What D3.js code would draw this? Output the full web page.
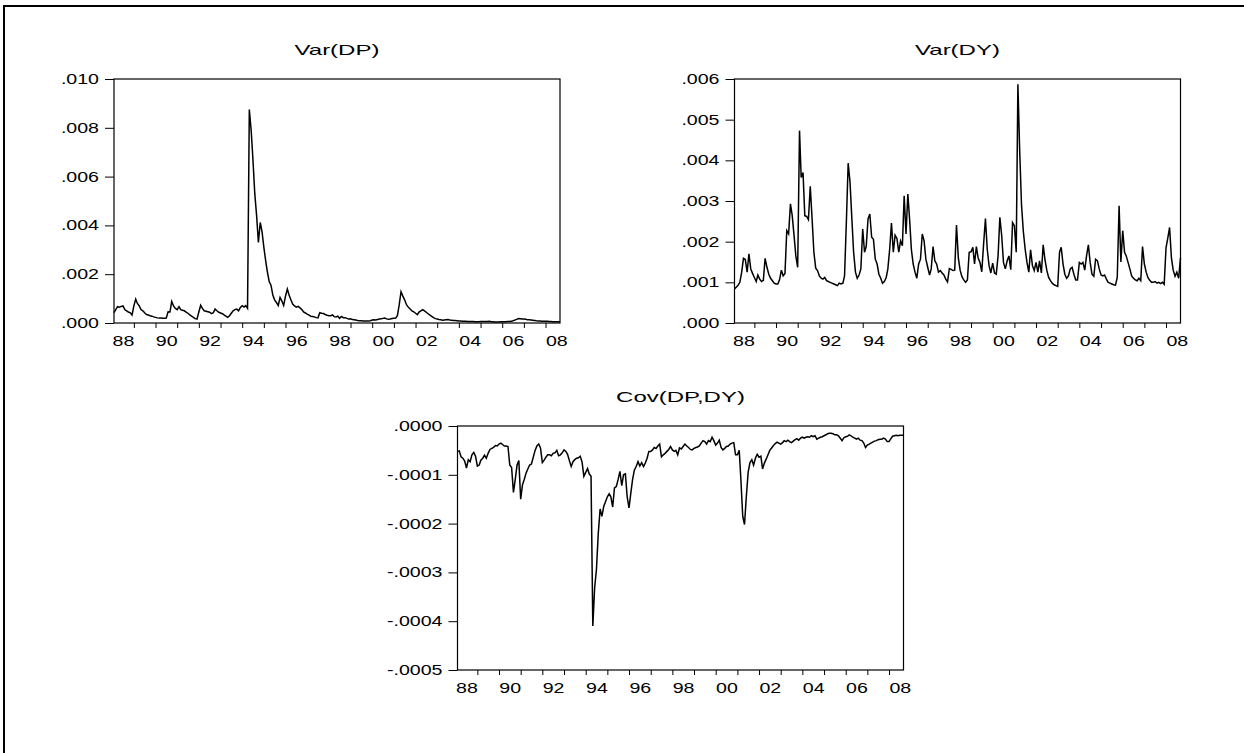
<!DOCTYPE html>
<html>
<head>
<meta charset="utf-8">
<script src="https://cdn.jsdelivr.net/npm/d3@7"></script>
<style>
  html, body { margin: 0; padding: 0; background: #fff; }
  svg { display: block; }
  text { font-family: "Liberation Sans", Arial, sans-serif; fill: #000; }
</style>
</head>
<body>
<div id="chart"></div>
<script>
// monthly sample, 1988M02 - 2008M09
var startMonth = new Date(1988, 1, 1),
    endMonth = new Date(2008, 8, 1);
var months = d3.timeMonth.range(startMonth, d3.timeMonth.offset(endMonth, 1));

// Var(DP), in units of 1e-3 (one row per calendar year)
var varDP = [
  0.43, 0.55, 0.67, 0.65, 0.68, 0.70, 0.55, 0.50, 0.45, 0.42, 0.33,
  0.70, 0.98, 0.80, 0.70, 0.55, 0.50, 0.42, 0.35, 0.33, 0.30, 0.28, 0.25,
  0.23, 0.21, 0.20, 0.20, 0.19, 0.19, 0.20, 0.46, 0.45, 0.88, 0.70, 0.60,
  0.55, 0.67, 0.55, 0.52, 0.50, 0.45, 0.40, 0.33, 0.28, 0.23, 0.18, 0.16,
  0.45, 0.73, 0.60, 0.50, 0.48, 0.46, 0.44, 0.38, 0.42, 0.57, 0.50, 0.44,
  0.41, 0.38, 0.33, 0.28, 0.23, 0.30, 0.40, 0.50, 0.55, 0.57, 0.50, 0.64,
  0.71, 0.65, 0.71, 0.60, 8.75, 7.90, 6.70, 5.30, 4.40, 3.30, 4.12, 3.75,
  3.10, 2.55, 2.10, 1.70, 1.55, 1.15, 0.95, 0.84, 0.72, 1.05, 0.90, 0.72,
  1.10, 1.39, 1.15, 0.95, 0.78, 0.70, 0.65, 0.68, 0.62, 0.55, 0.45, 0.41,
  0.36, 0.32, 0.28, 0.27, 0.25, 0.22, 0.21, 0.42, 0.40, 0.39, 0.35, 0.32,
  0.30, 0.30, 0.33, 0.26, 0.25, 0.28, 0.19, 0.27, 0.22, 0.22, 0.19, 0.16,
  0.17, 0.14, 0.135, 0.12, 0.10, 0.094, 0.09, 0.085, 0.08, 0.08, 0.08, 0.094,
  0.12, 0.13, 0.12, 0.14, 0.16, 0.17, 0.19, 0.20, 0.17, 0.15, 0.16, 0.18,
  0.19, 0.20, 0.30, 0.75, 1.28, 1.10, 0.95, 0.75, 0.65, 0.57, 0.50, 0.46,
  0.40, 0.34, 0.45, 0.50, 0.55, 0.50, 0.44, 0.38, 0.32, 0.27, 0.22, 0.18,
  0.16, 0.14, 0.13, 0.11, 0.12, 0.13, 0.14, 0.12, 0.11, 0.10, 0.10, 0.09,
  0.08, 0.08, 0.075, 0.07, 0.067, 0.065, 0.065, 0.06, 0.06, 0.055, 0.054, 0.055,
  0.06, 0.06, 0.06, 0.06, 0.065, 0.067, 0.055, 0.05, 0.045, 0.04, 0.045, 0.05,
  0.05, 0.055, 0.054, 0.06, 0.065, 0.067, 0.09, 0.12, 0.15, 0.18, 0.17, 0.16,
  0.16, 0.15, 0.135, 0.13, 0.12, 0.11, 0.10, 0.09, 0.085, 0.08, 0.075, 0.07,
  0.07, 0.067, 0.06, 0.06, 0.055, 0.05, 0.05, 0.05, 0.05
];

// Var(DY), in units of 1e-3
var varDY = [
  0.84, 0.88, 0.93, 1.00, 1.25, 1.59, 1.56, 1.25, 1.70, 1.33, 1.22,
  1.12, 1.02, 1.18, 1.08, 1.02, 1.05, 1.59, 1.37, 1.20, 1.10, 1.04, 0.98,
  0.96, 0.96, 1.06, 1.30, 1.16, 1.22, 2.27, 2.19, 2.93, 2.64, 2.15, 1.65,
  1.37, 4.73, 3.58, 3.70, 2.64, 2.62, 2.54, 3.36, 2.56, 1.74, 1.35, 1.29,
  1.16, 1.10, 1.08, 1.12, 1.04, 1.02, 1.00, 0.98, 0.96, 0.94, 0.92, 0.98,
  0.96, 0.98, 1.16, 2.50, 3.93, 3.47, 2.60, 1.74, 1.25, 1.10, 1.18, 1.33,
  2.31, 1.74, 1.88, 2.56, 2.68, 2.11, 2.06, 1.57, 1.45, 1.20, 1.10, 0.98,
  1.02, 1.12, 1.33, 1.82, 2.46, 1.74, 2.16, 2.08, 1.74, 2.02, 1.90, 3.13,
  2.19, 3.17, 2.56, 1.80, 1.45, 1.25, 1.10, 1.45, 1.57, 2.19, 2.02, 1.57,
  1.37, 1.18, 1.33, 1.88, 1.53, 1.45, 1.25, 1.29, 1.23, 1.18, 1.08, 1.01,
  1.34, 1.32, 1.29, 1.30, 2.41, 1.60, 1.30, 1.14, 1.06, 1.00, 1.06, 1.74,
  1.75, 1.86, 1.45, 1.88, 1.60, 1.49, 1.26, 1.94, 2.57, 1.82, 1.41, 1.23,
  1.47, 1.23, 1.20, 1.65, 2.60, 2.15, 1.49, 1.33, 1.53, 1.65, 1.31, 2.47,
  2.39, 1.74, 5.87, 4.20, 2.90, 2.25, 1.82, 1.49, 1.25, 1.80, 1.41, 1.29,
  1.49, 1.25, 1.53, 1.23, 1.92, 1.55, 1.30, 1.12, 1.04, 0.98, 0.94, 0.92,
  0.90, 1.74, 1.86, 1.45, 1.20, 1.10, 1.16, 1.33, 1.37, 1.20, 1.06, 1.06,
  1.49, 1.45, 1.49, 1.30, 1.65, 1.92, 1.49, 1.20, 1.15, 1.57, 1.53, 1.33,
  1.18, 1.16, 1.18, 1.08, 1.00, 0.98, 0.96, 0.94, 0.93, 1.12, 2.88, 1.50,
  2.27, 1.74, 1.65, 1.49, 1.33, 1.16, 1.10, 1.06, 1.04, 1.10, 1.04, 1.88,
  1.45, 1.25, 1.12, 1.05, 1.00, 1.00, 1.02, 0.98, 1.00, 0.97, 1.00, 0.95,
  1.85, 2.10, 2.35, 1.60, 1.30, 1.15, 1.25, 1.10, 1.60
];

// Cov(DP,DY), in units of 1e-4
var covDPDY = [
  -0.52, -0.51, -0.63, -0.66, -0.72, -0.86, -0.69, -0.73, -0.59, -0.54, -0.62,
  -0.82, -0.80, -0.70, -0.66, -0.60, -0.66, -0.56, -0.48, -0.46, -0.44, -0.40, -0.41,
  -0.37, -0.35, -0.38, -0.41, -0.41, -0.42, -0.80, -0.85, -1.36, -1.10, -0.80, -0.71,
  -1.50, -1.20, -1.10, -0.97, -0.88, -0.80, -0.78, -0.64, -0.50, -0.41, -0.37, -0.45,
  -0.75, -0.70, -0.64, -0.59, -0.59, -0.61, -0.56, -0.55, -0.50, -0.61, -0.59, -0.55,
  -0.49, -0.52, -0.58, -0.71, -0.83, -0.73, -0.69, -0.66, -0.65, -0.62, -0.74, -1.03,
  -0.95, -0.87, -0.98, -1.03, -4.10, -3.31, -2.94, -2.20, -1.70, -1.85, -1.65, -1.55,
  -1.45, -1.39, -1.45, -1.66, -1.27, -1.24, -1.10, -0.93, -1.22, -1.00, -0.98, -1.45,
  -1.68, -1.37, -1.10, -0.90, -0.83, -0.73, -0.82, -0.75, -0.83, -0.76, -0.66, -0.52,
  -0.52, -0.49, -0.44, -0.46, -0.41, -0.37, -0.63, -0.59, -0.56, -0.52, -0.48, -0.42,
  -0.49, -0.52, -0.50, -0.59, -0.45, -0.47, -0.42, -0.37, -0.41, -0.44, -0.48, -0.49,
  -0.46, -0.44, -0.43, -0.41, -0.35, -0.30, -0.32, -0.37, -0.30, -0.32, -0.23, -0.30,
  -0.39, -0.35, -0.29, -0.44, -0.49, -0.46, -0.42, -0.41, -0.37, -0.35, -0.34, -0.59,
  -0.59, -0.50, -1.10, -1.85, -2.02, -1.44, -0.95, -0.75, -0.69, -0.80, -0.66, -0.58,
  -0.64, -0.62, -0.88, -0.76, -0.68, -0.59, -0.50, -0.45, -0.40, -0.36, -0.33, -0.35,
  -0.37, -0.34, -0.30, -0.32, -0.29, -0.32, -0.34, -0.31, -0.28, -0.26, -0.29, -0.25,
  -0.23, -0.25, -0.23, -0.22, -0.23, -0.20, -0.22, -0.20, -0.27, -0.25, -0.23, -0.22,
  -0.20, -0.18, -0.16, -0.15, -0.15, -0.16, -0.18, -0.18, -0.20, -0.25, -0.30, -0.24,
  -0.22, -0.21, -0.18, -0.20, -0.23, -0.25, -0.27, -0.25, -0.29, -0.30, -0.35, -0.44,
  -0.39, -0.37, -0.35, -0.33, -0.31, -0.30, -0.28, -0.27, -0.27, -0.25, -0.27, -0.32,
  -0.32, -0.26, -0.21, -0.20, -0.19, -0.20, -0.19, -0.19, -0.19
];

// axis ticks and labels
var yearTicks = d3.range(1989, 2009).map(function(y) { return new Date(y, 0, 1); });
var labelYears = d3.range(1988, 2009, 2);
var yearLabels = ['88', '90', '92', '94', '96', '98', '00', '02', '04', '06', '08'];
var dpTicks = [0, 2, 4, 6, 8, 10];
var dyTicks = [0, 1, 2, 3, 4, 5, 6];
var covTicks = [0, -1, -2, -3, -4, -5];

var width = 1244,
    height = 753,
    plotW = 446,
    plotH = 244,
    tickSx = 1.4,    // the reference text is drawn wide
    titleSx = 1.6;

var svg = d3.select('#chart')
  .append('svg')
  .attr('width', width)
  .attr('height', height);

// outer frame (only top and left edges are inside the picture)
svg.append('path')
  .attr('d', 'M4,' + (height + 10) + 'V6H' + (width + 10))
  .attr('fill', 'none')
  .attr('stroke', '#000')
  .attr('stroke-width', 2);

function noLead(s) {
  return s.replace('0.', '.');
}

function drawPanel(cfg) {
  var g = svg.append('g')
    .attr('transform', 'translate(' + cfg.left + ',' + cfg.top + ')');

  var x = d3.scaleTime()
    .domain([startMonth, endMonth])
    .range([0, plotW]);

  var y = d3.scaleLinear()
    .domain(cfg.domain)
    .range([plotH, 0]);

  // y axis, ticks pointing out
  var yAxis = d3.axisLeft(y)
    .tickValues(cfg.ticks)
    .tickSize(9)
    .tickSizeOuter(0)
    .tickPadding(6)
    .tickFormat(cfg.format);

  var yg = g.append('g').call(yAxis);
  yg.select('.domain').remove();
  yg.selectAll('line').attr('stroke', '#000');
  yg.selectAll('text')
    .attr('font-size', 14)
    .attr('font-family', '"Liberation Sans", Arial, sans-serif')
    .attr('x', -15 / tickSx)
    .attr('transform', 'scale(' + tickSx + ',1)');

  // yearly tick marks
  var xAxis = d3.axisBottom(x)
    .tickValues(yearTicks)
    .tickSize(5)
    .tickSizeOuter(0)
    .tickFormat('');

  var xg = g.append('g')
    .attr('transform', 'translate(0,' + plotH + ')')
    .call(xAxis);
  xg.select('.domain').remove();
  xg.selectAll('line').attr('stroke', '#000');

  // year labels centred on the year
  var labelAxis = d3.axisBottom(x)
    .tickValues(labelYears.map(function(yr) { return new Date(yr, 6, 1); }))
    .tickSize(0)
    .tickPadding(13)
    .tickFormat(function(d, i) { return yearLabels[i]; });

  var lg = g.append('g')
    .attr('transform', 'translate(0,' + plotH + ')')
    .call(labelAxis);
  lg.select('.domain').remove();
  lg.selectAll('text')
    .attr('font-size', 14)
    .attr('font-family', '"Liberation Sans", Arial, sans-serif')
    .attr('transform', 'scale(' + tickSx + ',1)');

  var line = d3.line()
    .x(function(d, i) { return x(months[i]); })
    .y(function(d) { return y(d); });

  g.append('path')
    .datum(cfg.values)
    .attr('fill', 'none')
    .attr('stroke', '#000')
    .attr('stroke-width', 1.5)
    .attr('stroke-linejoin', 'miter')
    .attr('d', line);

  g.append('rect')
    .attr('x', 0)
    .attr('y', 0)
    .attr('width', plotW)
    .attr('height', plotH)
    .attr('fill', 'none')
    .attr('stroke', '#000')
    .attr('stroke-width', 1.2);

  g.append('text')
    .attr('transform', 'translate(' + plotW / 2 + ',-24) scale(' + titleSx + ',1)')
    .attr('text-anchor', 'middle')
    .attr('font-size', 15)
    .text(cfg.title);
}

drawPanel({
  title: 'Var(DP)',
  left: 114, top: 79,
  values: varDP,
  domain: [0, 10],
  ticks: dpTicks,
  format: function(v) { return noLead((v / 1000).toFixed(3)); }
});

drawPanel({
  title: 'Var(DY)',
  left: 734.5, top: 79,
  values: varDY,
  domain: [0, 6],
  ticks: dyTicks,
  format: function(v) { return noLead((v / 1000).toFixed(3)); }
});

drawPanel({
  title: 'Cov(DP,DY)',
  left: 457.5, top: 426,
  values: covDPDY,
  domain: [-5, 0],
  ticks: covTicks,
  format: function(v) { return noLead((v / 10000).toFixed(4)); }
});
</script>
</body>
</html>
